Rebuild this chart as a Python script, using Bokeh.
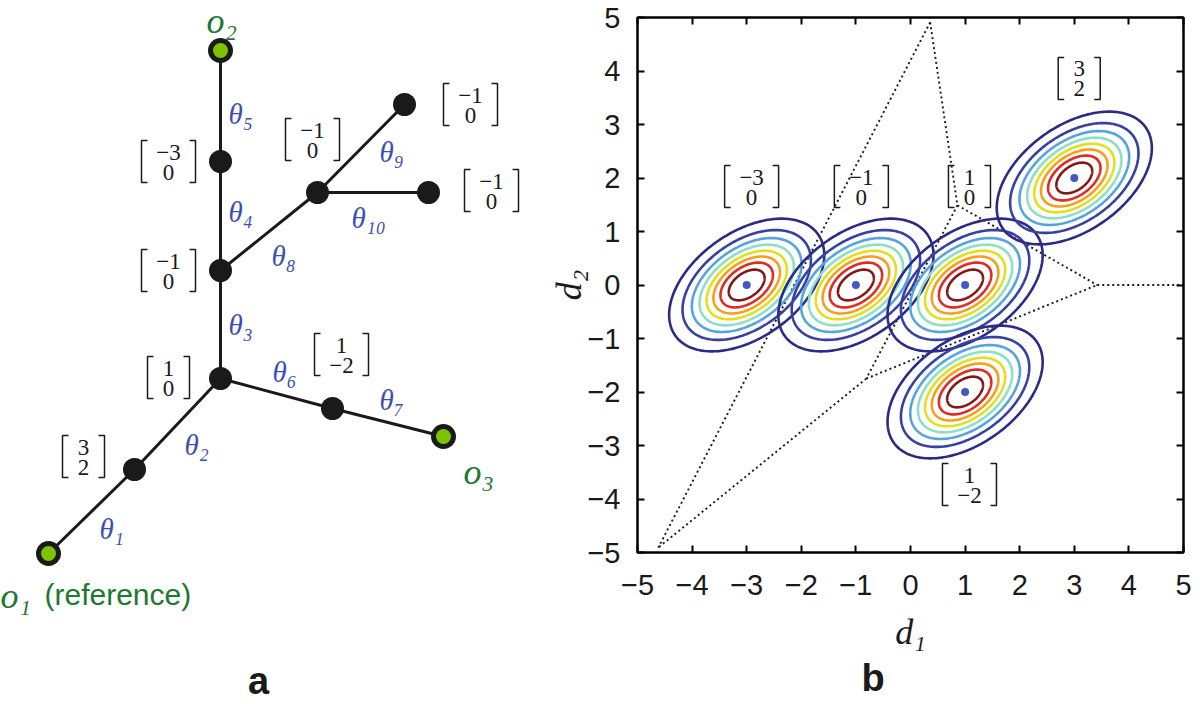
import numpy as np
from bokeh.plotting import figure
from bokeh.layouts import row
from bokeh.models import Range1d, FixedTicker, LinearAxis, Title, CustomJSTickFormatter
from bokeh.core.properties import value
from bokeh.embed import file_html
from bokeh.resources import INLINE

# ---------------- panel a : tree (page-pixel layout) ----------------
node_ids = ["o1", "v32", "v10", "vm1", "vm3", "o2", "v1m2", "o3", "vb", "vc", "vd"]
node_x = [48, 134, 220, 220, 220, 220, 332, 443, 317, 404, 428]
node_y = [553, 469, 378, 270, 161, 50, 408, 436, 192, 104, 192]
observed = ["o1", "o2", "o3"]

edge_src = ["o1", "v32", "v10", "vm1", "vm3", "v10", "v1m2", "vm1", "vb", "vb"]
edge_dst = ["v32", "v10", "vm1", "vm3", "o2", "v1m2", "o3", "vb", "vc", "vd"]
edge_label = ["θ₁", "θ₂", "θ₃", "θ₄", "θ₅", "θ₆", "θ₇", "θ₈", "θ₉", "θ₁₀"]
edge_lab_x = [99, 184, 228, 228, 228, 272, 379, 271, 379, 351]
edge_lab_y = [528, 444, 324, 211, 113, 371, 399, 255, 151, 217]

obs_label = ["o₁", "o₂", "o₃"]
obs_lab_x = [0, 206, 463]
obs_lab_y = [595, 20, 471]

vec_a_d1 = [-3, -1, 1, 3, 1, -1, -1, -1]
vec_a_d2 = [0, 0, 0, 2, -2, 0, 0, 0]
vec_a_x = [168, 168, 168, 83, 341, 312, 470, 491]
vec_a_y = [161, 270, 377, 456, 354, 139, 104, 190]

# ---------------- panel b : Gaussian contours ----------------
mean_d1 = [-3, -1, 1, 3, 1]
mean_d2 = [0, 0, 0, 2, -2]
lab_b_d1 = [-2.91, -0.90, 1.08, 3.09, 1.08]
lab_b_d2 = [1.84, 1.84, 1.84, 3.86, -3.73]
cov_d1d1 = 0.459
cov_d2d2 = 0.350
cov_d1d2 = 0.180
density_levels = [0.111, 0.222, 0.333, 0.444, 0.556, 0.667, 0.778, 0.889]
level_colors = ["#2b2b85", "#3841a2", "#55a5dc", "#8de0c5", "#e3de1e",
                "#f4a01c", "#e02a24", "#871818"]

bound_x0 = [0.36, 0.36, 0.86, -0.81, 0.86, -0.81, 3.42]
bound_y0 = [4.91, 4.91, 1.49, -1.75, 1.49, -1.75, 0.0]
bound_x1 = [-4.62, 0.86, -0.81, -4.62, 3.42, 3.42, 5.0]
bound_y1 = [-4.91, 1.49, -1.75, -4.91, 0.0, 0.0, 0.0]

tick_values = [-5, -4, -3, -2, -1, 0, 1, 2, 3, 4, 5]

# ---------------- styles ----------------
BLACK = "#1a1a1a"
BLUE = "#3c50b4"
GREEN_T = "#1e7832"
GREEN_F = "#7dc300"
SERIF = value("Liberation Serif")
SANS = value("Liberation Sans")
H = 704


def fmt(v):
    return "\u2212%d" % (-v) if v < 0 else "%d" % v


def bracket_paths(cx, cy, hw, hh, serif, kx, ky):
    xs, ys = [], []
    for s in (-1, 1):
        xe = cx + s * hw * kx
        xi = cx + s * (hw - serif) * kx
        yt = cy - hh * ky
        yb = cy + hh * ky
        xs.append([xi, xe, xe, xi])
        ys.append([yt, yt, yb, yb])
    return xs, ys


def draw_vectors(p, xs_c, ys_c, d1s, d2s, kx, ky):
    bxs, bys = [], []
    tx, ty, tt = [], [], []
    for cx, cy, a, b in zip(xs_c, ys_c, d1s, d2s):
        hw = 27 if (a < 0 or b < 0) else 21
        bx, by = bracket_paths(cx, cy, hw, 21, 6, kx, ky)
        bxs += bx
        bys += by
        tx += [cx, cx]
        ty += [cy - 9.5 * ky, cy + 10.5 * ky]
        tt += [fmt(a), fmt(b)]
    p.multi_line(bxs, bys, line_color=BLACK, line_width=1.5)
    p.text(tx, ty, text=tt, text_font=SERIF, text_font_size="23px",
           text_color=BLACK, text_align="center", text_baseline="middle")


# ================= panel a =================
WA = 520
pa = figure(width=WA, height=H, x_range=Range1d(0, WA), y_range=Range1d(H, 0),
            x_axis_type=None, y_axis_type=None, output_backend="svg",
            toolbar_location=None, min_border=0, outline_line_color=None)
pa.grid.visible = False

pos = {n: (x, y) for n, x, y in zip(node_ids, node_x, node_y)}
pa.segment([pos[s][0] for s in edge_src], [pos[s][1] for s in edge_src],
           [pos[d][0] for d in edge_dst], [pos[d][1] for d in edge_dst],
           line_color=BLACK, line_width=3)

hid = [n for n in node_ids if n not in observed]
pa.scatter([pos[n][0] for n in hid], [pos[n][1] for n in hid], size=23,
           fill_color=BLACK, line_color=None)
pa.scatter([pos[n][0] for n in observed], [pos[n][1] for n in observed], size=25,
           fill_color=BLACK, line_color=None)
pa.scatter([pos[n][0] for n in observed], [pos[n][1] for n in observed], size=15,
           fill_color=GREEN_F, line_color=None)

pa.text(edge_lab_x, edge_lab_y, text=edge_label, text_font=SERIF, text_font_style="italic",
        text_font_size="29px", text_color=BLUE, text_align="left", text_baseline="middle")
pa.text(obs_lab_x, obs_lab_y, text=obs_label, text_font=SERIF, text_font_style="italic",
        text_font_size="36px", text_color=GREEN_T, text_align="left", text_baseline="middle")
pa.text([44], [594], text=["(reference)"], text_font=SANS, text_font_size="30px",
        text_color=GREEN_T, text_align="left", text_baseline="middle")

draw_vectors(pa, vec_a_x, vec_a_y, vec_a_d1, vec_a_d2, 1.0, 1.0)

pa.text([258], [680], text=["a"], text_font=SANS, text_font_style="bold",
        text_font_size="38px", text_color=BLACK, text_align="center", text_baseline="middle")

# ================= panel b =================
WB = 1192 - WA
ML, MR, MT, MB = 117, 9, 17, H - 552
pb = figure(width=WB, height=H, x_range=Range1d(-5, 5), y_range=Range1d(-5, 5),
            output_backend="svg", toolbar_location=None,
            min_border_left=ML, min_border_right=MR, min_border_top=MT, min_border_bottom=MB,
            outline_line_color="black", outline_line_width=2)
pb.grid.visible = False
fw = WB - ML - MR
fh = H - MT - MB
kx = 10.0 / fw
ky = -10.0 / fh

for p in (pa, pb):
    if "frame_align" in p.properties():
        p.frame_align = False

# boundaries (dotted)
pb.segment(bound_x0, bound_y0, bound_x1, bound_y1, line_color=BLACK, line_width=1.9,
           line_dash="2 3")

# Gaussian contours
S = np.array([[cov_d1d1, cov_d1d2], [cov_d1d2, cov_d2d2]])
L = np.linalg.cholesky(S)
phi = np.linspace(0, 2 * np.pi, 240)
circ = np.vstack([np.cos(phi), np.sin(phi)])
for mx, my in zip(mean_d1, mean_d2):
    for lev, col in zip(density_levels, level_colors):
        r = np.sqrt(-2.0 * np.log(lev))
        pts = L @ (r * circ)
        pb.line(mx + pts[0], my + pts[1], line_color=col, line_width=2.6)
pb.scatter(mean_d1, mean_d2, size=8, fill_color="#4458c2", line_color=None)

draw_vectors(pb, lab_b_d1, lab_b_d2, mean_d1, mean_d2, kx, ky)

ticker = FixedTicker(ticks=tick_values)
over = {t: fmt(t) for t in tick_values}
for ax in (pb.xaxis[0], pb.yaxis[0]):
    ax.ticker = ticker
    ax.major_label_overrides = over
    ax.major_tick_in = 7
    ax.major_tick_out = 0
    ax.minor_tick_in = 0
    ax.minor_tick_out = 0
    ax.major_tick_line_width = 2
    ax.axis_line_width = 2
    ax.major_label_text_font = "Liberation Sans"
    ax.major_label_text_font_size = "29px"
    ax.major_label_text_color = BLACK
    ax.axis_label_text_font = "Liberation Serif"
    ax.axis_label_text_font_style = "italic"
    ax.axis_label_text_font_size = "36px"
    ax.axis_label_text_color = BLACK
pb.xaxis[0].axis_label = "d₁"
pb.yaxis[0].axis_label = "d₂"
pb.xaxis[0].major_label_standoff = 22
pb.yaxis[0].major_label_standoff = 17
pb.xaxis[0].axis_label_standoff = 14
pb.yaxis[0].axis_label_standoff = -5

for loc in ("above", "right"):
    ax = LinearAxis(ticker=ticker, formatter=CustomJSTickFormatter(code="return ''"),
                    major_tick_in=7, major_tick_out=0, minor_tick_in=0, minor_tick_out=0,
                    major_tick_line_width=2, axis_line_width=2,
                    major_label_standoff=0, major_label_text_font_size="1px")
    pb.add_layout(ax, loc)

pb.add_layout(Title(text="b", align="left", offset=224, standoff=0,
                    text_font="Liberation Sans", text_font_style="bold",
                    text_font_size="38px", text_color=BLACK), "below")

layout = row(pa, pb)
open("out.html", "w").write(file_html(layout, INLINE))
